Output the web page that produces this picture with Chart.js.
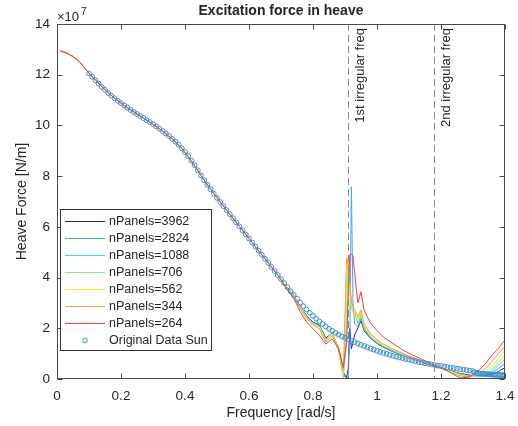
<!DOCTYPE html>
<html>
<head>
<meta charset="utf-8">
<script src="https://cdn.jsdelivr.net/npm/chart.js@4.4.1/dist/chart.umd.min.js"></script>
<style>
  html, body { margin: 0; padding: 0; background: #fff; }
</style>
</head>
<body>
<canvas id="heaveChart" width="518" height="426"></canvas>
<script>
// force values are in units of 1e7 N/m (axis shows the x10^7 multiplier)

// frequencies shared by all nPanels curves
const lowFreq = [0.01, 0.03, 0.05, 0.07, 0.09, 0.12, 0.15, 0.18, 0.21, 0.24, 0.27, 0.3,
    0.33, 0.36, 0.39, 0.42, 0.45, 0.48, 0.51, 0.54, 0.57, 0.6, 0.63, 0.66, 0.69];
const tailFreq = [0.72, 0.74, 0.76, 0.78, 0.8, 0.82, 0.84, 0.86, 0.88, 0.895, 0.905, 0.91,
    0.915, 0.92, 0.925, 0.93, 0.94, 0.95, 0.96, 0.98, 1.0, 1.02, 1.05, 1.08, 1.11, 1.14,
    1.17, 1.2, 1.23, 1.26, 1.29, 1.32, 1.34, 1.36, 1.38, 1.4];

// below 0.7 rad/s every mesh gives the same force
const lowForce = [12.94, 12.86, 12.72, 12.52, 12.2, 11.79, 11.4, 11.07, 10.79, 10.53, 10.29, 10.05,
    9.77, 9.47, 9.1, 8.6, 8.03, 7.48, 6.98, 6.5, 6.02, 5.54, 5.06, 4.58, 4.1];

const tail3962 = [3.6, 3.3, 2.85, 2.5, 2.25, 2.12, 1.62, 1.8, 1.2, 0.25, 0.05, 0.4,
    2.0, 1.2, 1.45, 1.74, 2.0, 2.3, 1.9, 1.6, 1.4, 1.25, 1.08, 0.93, 0.8, 0.67,
    0.54, 0.43, 0.32, 0.22, 0.15, 0.13, 0.14, 0.18, 0.3, 0.45];
const tail2824 = [3.6, 3.3, 2.86, 2.48, 2.22, 2.1, 1.58, 1.82, 1.15, 0.15, 0.02, 0.1,
    1.5, 7.58, 3.0, 2.2, 2.05, 2.4, 1.95, 1.62, 1.42, 1.27, 1.09, 0.94, 0.81, 0.68,
    0.55, 0.44, 0.31, 0.2, 0.13, 0.12, 0.16, 0.25, 0.42, 0.6];
const tail1088 = [3.58, 3.28, 2.84, 2.46, 2.2, 2.08, 1.56, 1.84, 1.12, 0.12, 1.5, 4.3,
    3.6, 2.9, 2.7, 2.6, 2.2, 2.5, 2.0, 1.65, 1.44, 1.29, 1.11, 0.96, 0.83, 0.7,
    0.56, 0.45, 0.31, 0.19, 0.11, 0.11, 0.18, 0.32, 0.55, 0.8];
const tail706 = [3.58, 3.27, 2.82, 2.44, 2.18, 2.06, 1.52, 1.86, 1.1, 0.05, 2.5, 4.6,
    3.5, 2.8, 2.65, 2.55, 2.25, 2.55, 2.05, 1.68, 1.46, 1.31, 1.13, 0.97, 0.84, 0.7,
    0.56, 0.44, 0.3, 0.17, 0.1, 0.12, 0.22, 0.4, 0.68, 0.95];
const tail562 = [3.57, 3.26, 2.8, 2.42, 2.16, 2.04, 1.5, 1.8, 1.12, 0.2, 3.8, 4.75,
    3.6, 2.9, 2.75, 2.65, 2.35, 2.62, 2.1, 1.72, 1.5, 1.34, 1.15, 0.99, 0.85, 0.71,
    0.56, 0.43, 0.28, 0.15, 0.09, 0.15, 0.3, 0.52, 0.82, 1.1];
const tail344 = [3.56, 3.24, 2.77, 2.38, 2.12, 1.98, 1.45, 1.72, 1.15, 0.3, 4.77, 4.5,
    3.8, 3.1, 2.85, 2.75, 2.45, 2.72, 2.18, 1.78, 1.55, 1.38, 1.18, 1.01, 0.86, 0.71,
    0.56, 0.42, 0.26, 0.12, 0.08, 0.22, 0.42, 0.7, 1.0, 1.3];
const tail264 = [3.52, 3.18, 2.65, 2.25, 1.98, 1.72, 1.38, 1.58, 1.2, 0.45, 1.5, 3.2,
    4.9, 4.93, 4.85, 4.2, 3.0, 3.44, 2.7, 2.2, 1.9, 1.65, 1.4, 1.15, 0.95, 0.78,
    0.6, 0.45, 0.25, 0.04, 0.08, 0.36, 0.62, 0.95, 1.22, 1.54];

const panelLabels = ["nPanels=3962", "nPanels=2824", "nPanels=1088", "nPanels=706",
    "nPanels=562", "nPanels=344", "nPanels=264"];
const panelTails = [tail3962, tail2824, tail1088, tail706, tail562, tail344, tail264];
const panelColors = ["#1c1cb4", "#4aa3f5", "#40dede", "#86ef86", "#eeee1a", "#ff9a40", "#ff3a3a"];

// Sun's original data
const sunFreq = [
    0.10, 0.11, 0.12, 0.13, 0.14, 0.15, 0.16, 0.17, 0.18, 0.19,
    0.20, 0.21, 0.22, 0.23, 0.24, 0.25, 0.26, 0.27, 0.28, 0.29,
    0.30, 0.31, 0.32, 0.33, 0.34, 0.35, 0.36, 0.37, 0.38, 0.39,
    0.40, 0.41, 0.42, 0.43, 0.44, 0.45, 0.46, 0.47, 0.48, 0.49,
    0.50, 0.51, 0.52, 0.53, 0.54, 0.55, 0.56, 0.57, 0.58, 0.59,
    0.60, 0.61, 0.62, 0.63, 0.64, 0.65, 0.66, 0.67, 0.68, 0.69,
    0.70, 0.71, 0.72, 0.73, 0.74, 0.75, 0.76, 0.77, 0.78, 0.79,
    0.80, 0.81, 0.82, 0.83, 0.84, 0.85, 0.86, 0.87, 0.88, 0.89,
    0.90, 0.91, 0.92, 0.93, 0.94, 0.95, 0.96, 0.97, 0.98, 0.99,
    1.00, 1.01, 1.02, 1.03, 1.04, 1.05, 1.06, 1.07, 1.08, 1.09,
    1.10, 1.11, 1.12, 1.13, 1.14, 1.15, 1.16, 1.17, 1.18, 1.19,
    1.20, 1.21, 1.22, 1.23, 1.24, 1.25, 1.26, 1.27, 1.28, 1.29,
    1.30, 1.305, 1.31, 1.315, 1.32, 1.325, 1.33, 1.335, 1.34, 1.345,
    1.35, 1.355, 1.36, 1.365, 1.37, 1.375, 1.38, 1.385, 1.39, 1.395, 1.40];
const sunForce = [
    12.05, 11.92, 11.78, 11.65, 11.52, 11.40, 11.28, 11.17, 11.07, 10.97,
    10.88, 10.79, 10.70, 10.61, 10.53, 10.45, 10.37, 10.29, 10.21, 10.13,
    10.05, 9.96, 9.87, 9.78, 9.68, 9.58, 9.47, 9.36, 9.24, 9.10,
    8.95, 8.79, 8.61, 8.43, 8.23, 8.03, 7.84, 7.66, 7.48, 7.31,
    7.14, 6.98, 6.82, 6.66, 6.50, 6.34, 6.18, 6.02, 5.86, 5.70,
    5.54, 5.38, 5.22, 5.06, 4.90, 4.74, 4.58, 4.42, 4.26, 4.10,
    3.94, 3.78, 3.62, 3.46, 3.31, 3.16, 3.01, 2.87, 2.74, 2.61,
    2.49, 2.38, 2.27, 2.17, 2.07, 1.98, 1.90, 1.82, 1.75, 1.68,
    1.62, 1.56, 1.50, 1.45, 1.40, 1.35, 1.30, 1.25, 1.20, 1.16,
    1.11, 1.07, 1.03, 0.99, 0.95, 0.91, 0.88, 0.85, 0.82, 0.79,
    0.76, 0.73, 0.70, 0.67, 0.65, 0.62, 0.60, 0.58, 0.55, 0.53,
    0.51, 0.49, 0.47, 0.45, 0.43, 0.41, 0.39, 0.37, 0.35, 0.33,
    0.31, 0.26, 0.24, 0.23, 0.22, 0.21, 0.20, 0.20, 0.19, 0.19,
    0.18, 0.18, 0.17, 0.17, 0.17, 0.16, 0.16, 0.16, 0.15, 0.15, 0.15];

const irregularFreqs = [0.909, 1.178];
const irregularLabels = ["1st irregular freq", "2nd irregular freq"];

const xTicks = [0, 0.2, 0.4, 0.6, 0.8, 1, 1.2, 1.4];
const yTicks = [0, 2, 4, 6, 8, 10, 12, 14];

const textColor = "#262626";
const fontFamily = '"Liberation Sans", Arial, sans-serif';
const sunColor = "#3b8fd3";

const lineFreq = lowFreq.concat(tailFreq);

const datasets = panelLabels.map((label, i) => ({
    label: label,
    data: lineFreq.map((f, j) => ({ x: f, y: lowForce.concat(panelTails[i])[j] })),
    showLine: true,
    borderColor: panelColors[i],
    backgroundColor: panelColors[i],
    borderWidth: 1,
    pointRadius: 0,
    order: 10 - i
}));

datasets.push({
    label: "Original Data Sun",
    data: sunFreq.map((f, j) => ({ x: f, y: sunForce[j] })),
    showLine: false,
    pointStyle: "circle",
    pointRadius: 2.4,
    borderWidth: 1,
    borderColor: sunColor,
    backgroundColor: "rgba(0,0,0,0)",
    order: 1
});

const decor = {
    id: "decor",
    beforeDraw(chart) {
        const c = chart.ctx;
        c.save();
        c.fillStyle = "#fff";
        c.fillRect(0, 0, chart.width, chart.height);
        c.restore();
    },
    afterDatasetsDraw(chart) {
        const c = chart.ctx;
        const a = chart.chartArea;
        const x = chart.scales.x;
        const y = chart.scales.y;
        c.save();

        // irregular frequency markers
        irregularFreqs.forEach((f, i) => {
            const px = Math.round(x.getPixelForValue(f)) + 0.5;
            c.strokeStyle = "#8a8a8a";
            c.lineWidth = 1;
            c.setLineDash([7, 4]);
            c.beginPath();
            c.moveTo(px, a.top);
            c.lineTo(px, a.bottom);
            c.stroke();
            c.setLineDash([]);
            c.save();
            c.translate(px + 12, a.top + 4);
            c.rotate(-Math.PI / 2);
            c.fillStyle = textColor;
            c.font = "13px " + fontFamily;
            c.textAlign = "right";
            c.textBaseline = "middle";
            c.fillText(irregularLabels[i], 0, 0);
            c.restore();
        });

        // axes box with inward ticks
        c.strokeStyle = "#4a4a4a";
        c.lineWidth = 1;
        const L = Math.round(a.left) + 0.5, R = Math.round(a.right) - 0.5;
        const T = Math.round(a.top) + 0.5, B = Math.round(a.bottom) - 0.5;
        c.strokeRect(L, T, R - L, B - T);
        c.beginPath();
        xTicks.forEach(v => {
            const px = Math.round(x.getPixelForValue(v)) + 0.5;
            c.moveTo(px, B); c.lineTo(px, B - 5);
            c.moveTo(px, T); c.lineTo(px, T + 5);
        });
        yTicks.forEach(v => {
            const py = Math.round(y.getPixelForValue(v)) + 0.5;
            c.moveTo(L, py); c.lineTo(L + 5, py);
            c.moveTo(R, py); c.lineTo(R - 5, py);
        });
        c.stroke();

        // legend
        const lx = 60.5, ly = 209.5, lw = 151, lh = 141, row = 17.05;
        c.fillStyle = "#fff";
        c.fillRect(lx, ly, lw, lh);
        c.strokeStyle = "#333";
        c.strokeRect(lx, ly, lw, lh);
        c.font = "12.5px " + fontFamily;
        c.textAlign = "left";
        c.textBaseline = "middle";
        chart.data.datasets.forEach((ds, i) => {
            const cy = ly + 11.5 + i * row;
            if (ds.showLine) {
                c.strokeStyle = ds.borderColor;
                c.lineWidth = 1;
                c.beginPath();
                c.moveTo(lx + 4.5, Math.round(cy) + 0.5);
                c.lineTo(lx + 44.5, Math.round(cy) + 0.5);
                c.stroke();
            } else {
                c.strokeStyle = ds.borderColor;
                c.beginPath();
                c.arc(lx + 24.5, cy, 2.4, 0, Math.PI * 2);
                c.stroke();
            }
            c.fillStyle = textColor;
            c.fillText(ds.label, lx + 48.5, cy + 0.5);
        });

        // titles
        c.fillStyle = textColor;
        c.textAlign = "center";
        c.textBaseline = "middle";
        c.font = "bold 14px " + fontFamily;
        c.fillText("Excitation force in heave", 281, 11);
        c.font = "14px " + fontFamily;
        c.fillText("Frequency [rad/s]", (a.left + a.right) / 2, 413);
        c.save();
        c.translate(22, (a.top + a.bottom) / 2);
        c.rotate(-Math.PI / 2);
        c.fillText("Heave Force [N/m]", 0, 0);
        c.restore();

        // exponent label
        c.textAlign = "left";
        c.font = "13px " + fontFamily;
        c.fillText("\u00d710", 57, 17);
        c.font = "10px " + fontFamily;
        c.fillText("7", 81, 12);

        c.restore();
    }
};

new Chart(document.getElementById("heaveChart"), {
    type: "scatter",
    data: { datasets: datasets },
    options: {
        responsive: false,
        animation: false,
        devicePixelRatio: 1,
        layout: { padding: { top: 24, right: 13, left: 0, bottom: 0 } },
        plugins: {
            legend: { display: false },
            title: { display: false },
            tooltip: { enabled: false }
        },
        scales: {
            x: {
                type: "linear",
                min: 0,
                max: 1.4,
                afterBuildTicks: s => { s.ticks = xTicks.map(v => ({ value: v })); },
                afterFit: s => { s.height = 47; s.paddingLeft = 0; s.paddingRight = 0; },
                grid: { display: false, drawTicks: false },
                border: { display: false },
                ticks: {
                    color: textColor,
                    font: { family: fontFamily, size: 13.5 },
                    padding: 9,
                    maxRotation: 0,
                    callback: v => String(Math.round(v * 10) / 10)
                }
            },
            y: {
                type: "linear",
                min: 0,
                max: 14,
                afterBuildTicks: s => { s.ticks = yTicks.map(v => ({ value: v })); },
                afterFit: s => { s.width = 57; s.paddingTop = 0; s.paddingBottom = 0; },
                grid: { display: false, drawTicks: false },
                border: { display: false },
                ticks: {
                    color: textColor,
                    font: { family: fontFamily, size: 13.5 },
                    padding: 7,
                    callback: v => String(v)
                }
            }
        }
    },
    plugins: [decor]
});
</script>
</body>
</html>
